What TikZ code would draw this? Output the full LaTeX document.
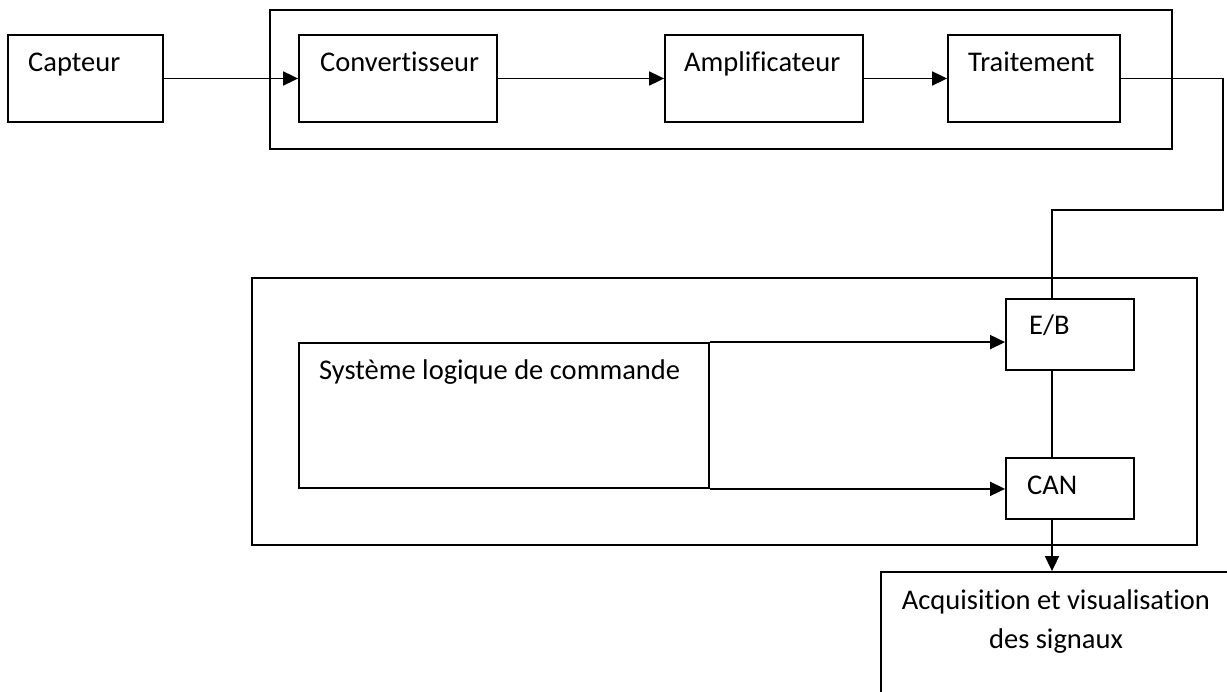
\documentclass[tikz,border=0pt]{standalone}
\usepackage{fontspec}
\setmainfont{Carlito}[RawFeature={-liga;-clig}]
\usetikzlibrary{arrows.meta}
\begin{document}
\begin{tikzpicture}[x=1pt,y=-1pt,
  box/.style={draw,line width=1.8pt,inner sep=0pt,minimum width=#1},
  lbl/.style={anchor=base west,inner sep=0pt,font=\fontsize{28.5}{38}\selectfont},
  lblc/.style={anchor=base,inner sep=0pt,font=\fontsize{28.5}{38}\selectfont},
  wire/.style={line width=1.8pt},
  arr/.style={line width=1.8pt,-{Triangle[length=15pt,width=14pt]}}]
\clip (0,0) rectangle (1227,692);
\fill[white] (0,0) rectangle (1227,692);
% outer frames
\node[box=902pt,minimum height=139pt] (outerA) at (721,79.5) {};
\node[box=945pt,minimum height=267pt] (outerB) at (724.5,411.5) {};
% top chain
\node[box=155pt,minimum height=87pt] (cap) at (85.5,78.5) {};
\node[box=198pt,minimum height=87pt] (conv) at (398,78.5) {};
\node[box=198pt,minimum height=87pt] (amp) at (764,78.5) {};
\node[box=172pt,minimum height=87pt] (trait) at (1034,78.5) {};
% lower part
\node[box=410pt,minimum height=145pt] (sys) at (504,415.5) {};
\node[box=128pt,minimum height=71pt] (eb) at (1070,334.5) {};
\node[box=128pt,minimum height=61pt] (can) at (1070,488.5) {};
\node[box=380pt,minimum height=160pt] (acq) at (1071,652) {};
% labels
\node[lbl] (tcap) at (28,72) {Capteur};
\node[lbl] (tconv) at (320,72) {Convertisseur};
\node[lbl] (tamp) at (684,72) {Amplificateur};
\node[lbl] (ttrait) at (968,72) {Traitement};
\node[lbl] (tsys) at (319,380) {Système logique de commande};
\node[lbl] (teb) at (1029,335) {E/B};
\node[lbl] (tcan) at (1027,495) {CAN};
\node[lblc] (tacq1) at (1056,609) {Acquisition et visualisation};
\node[lblc] (tacq2) at (1056,648) {des signaux};
% connectors
\draw[arr] (cap.east) -- (conv.west);
\draw[arr] (conv.east) -- (amp.west);
\draw[arr] (amp.east) -- (trait.west);
\coordinate (tr) at (1223,210);
\coordinate (jn) at (1052,210);
\draw[wire] (trait.east) -| (tr) -- (jn) -- (jn |- eb.north);
\draw[arr] (sys.north east) -- (sys.north east -| eb.west);
\draw[arr] (sys.south east) -- (sys.south east -| can.west);
\draw[wire] (jn |- eb.south) -- (jn |- can.north);
\draw[arr] (jn |- can.south) -- (jn |- acq.north);
\end{tikzpicture}
\end{document}
